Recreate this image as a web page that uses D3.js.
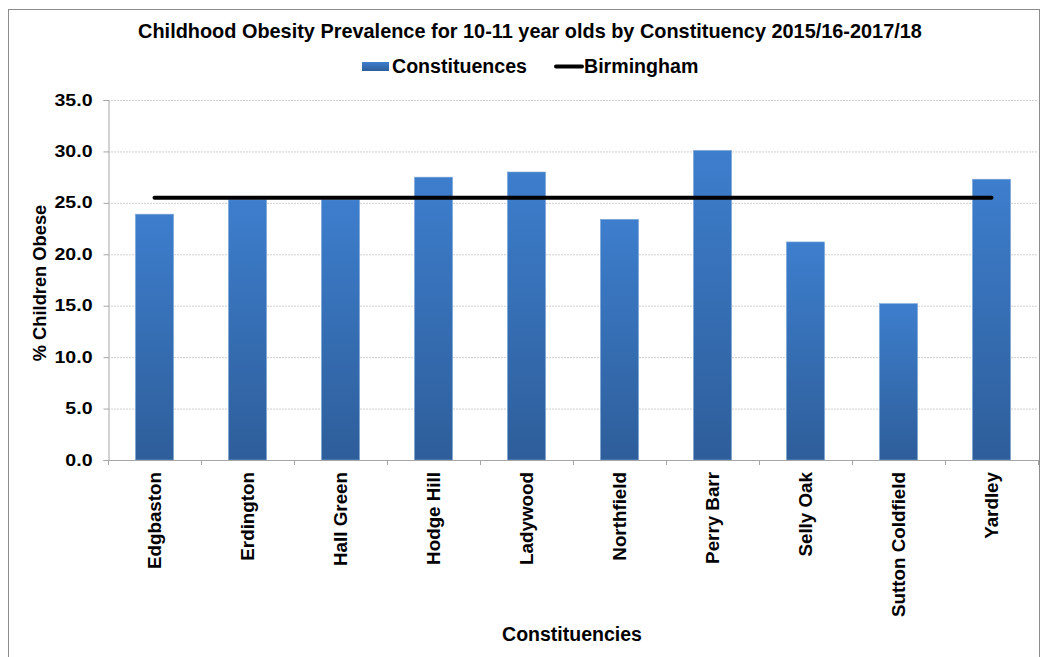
<!DOCTYPE html>
<html><head><meta charset="utf-8">
<script src="https://cdn.jsdelivr.net/npm/d3@7"></script>
<style>
body{margin:0;background:#fff;}
text{font-family:Arial,"Liberation Sans",sans-serif;font-weight:bold;fill:#000;}
</style></head>
<body><svg id="c" width="1043" height="657"></svg>
<script>
const categories = ["Edgbaston","Erdington","Hall Green","Hodge Hill","Ladywood","Northfield","Perry Barr","Selly Oak","Sutton Coldfield","Yardley"];
const constituencyValues = [23.9, 25.3, 25.3, 27.5, 28.0, 23.4, 30.1, 21.2, 15.2, 27.3];
const birminghamValue = 25.5;
const yTicks = [0,5,10,15,20,25,30,35];
const titleText = "Childhood Obesity Prevalence for 10-11 year olds by Constituency 2015/16-2017/18";
const seriesNames = ["Constituences","Birmingham"];
const xTitle = "Constituencies";
const yTitle = "% Children Obese";

const svg = d3.select("#c");
function widen(sel, k){ sel.each(function(){ const w=this.getComputedTextLength(); d3.select(this).attr("textLength", w*k).attr("lengthAdjust","spacingAndGlyphs"); }); }

// outer border
svg.append("rect").attr("x",8.5).attr("y",9.5).attr("width",1031).attr("height",700)
  .attr("fill","none").attr("stroke","#8c8c8c").attr("stroke-width",1);

const pLeft=108, pRight=1038, pTop=100, pBottom=460;
const x = d3.scaleBand().domain(categories).range([pLeft,pRight]).paddingInner(0.59).paddingOuter(0.295);
const y = d3.scaleLinear().domain([0,35]).range([pBottom,pTop]);

const defs = svg.append("defs");
const g = defs.append("linearGradient").attr("id","bg").attr("x1",0).attr("y1",0).attr("x2",0).attr("y2",1);
g.append("stop").attr("offset","0%").attr("stop-color","#3d7ecd");
g.append("stop").attr("offset","100%").attr("stop-color","#2e5e9a");

// gridlines
svg.append("g").selectAll("line").data(yTicks.filter(d=>d>0)).join("line")
  .attr("x1",pLeft).attr("x2",pRight).attr("y1",d=>y(d)+0.5).attr("y2",d=>y(d)+0.5)
  .attr("stroke","#cfcfcf").attr("stroke-width",1).attr("stroke-dasharray","2,1");

// y axis
const ya = svg.append("g").attr("transform",`translate(${pLeft+0.5},0)`)
  .call(d3.axisLeft(y).tickValues(yTicks).tickFormat(d3.format(".1f")).tickSize(5).tickPadding(11));
ya.select(".domain").attr("stroke","#a6a6a6");
ya.selectAll(".tick line").attr("stroke","#a6a6a6");
ya.selectAll(".tick text").attr("font-size",16).style("font-family","Arial, 'Liberation Sans', sans-serif").style("font-weight","bold").attr("fill","#000").call(widen,1.22);

// bars
svg.append("g").selectAll("rect").data(categories).join("rect")
  .attr("x",d=>x(d)).attr("width",x.bandwidth())
  .attr("y",(d,i)=>y(constituencyValues[i])).attr("height",(d,i)=>pBottom-y(constituencyValues[i]))
  .attr("fill","url(#bg)").attr("stroke","#7fa7d8").attr("stroke-width",0.6);

// x axis
const step = x.step();
const xa = svg.append("g");
xa.append("line").attr("x1",pLeft).attr("x2",pRight).attr("y1",pBottom+0.5).attr("y2",pBottom+0.5).attr("stroke","#a6a6a6");
const bounds = categories.map(c=>x(c)-step*0.295).concat([pRight]);
xa.selectAll("line.t").data(bounds).join("line").attr("class","t")
  .attr("x1",d=>Math.round(d)+0.5).attr("x2",d=>Math.round(d)+0.5).attr("y1",pBottom).attr("y2",pBottom+5).attr("stroke","#a6a6a6");
xa.selectAll("text").data(categories).join("text")
  .attr("transform",d=>`translate(${x(d)+x.bandwidth()/2},${pBottom+12}) rotate(-90)`)
  .attr("text-anchor","end").attr("dy","0.36em").attr("font-size",18.8).text(d=>d);

// Birmingham line
const lineGen = d3.line().x(d=>x(d)+x.bandwidth()/2).y(()=>y(birminghamValue));
svg.append("path").datum(categories).attr("d",lineGen).attr("fill","none")
  .attr("stroke","#000").attr("stroke-width",4).attr("stroke-linecap","round");

// title
svg.append("text").attr("x",530).attr("y",38).attr("text-anchor","middle").attr("font-size",19.9).text(titleText);

// legend
const lg = svg.append("g");
lg.append("rect").attr("x",362).attr("y",62).attr("width",27).attr("height",9).attr("fill","url(#bg)");
lg.append("text").attr("x",392).attr("y",73).attr("font-size",19.6).text(seriesNames[0]);
lg.append("line").attr("x1",556).attr("x2",582).attr("y1",66.5).attr("y2",66.5).attr("stroke","#000").attr("stroke-width",4).attr("stroke-linecap","round");
lg.append("text").attr("x",584).attr("y",73).attr("font-size",19.6).text(seriesNames[1]);

// axis titles
svg.append("text").attr("x",572).attr("y",641).attr("text-anchor","middle").attr("font-size",19.5).text(xTitle);
svg.append("text").attr("transform","translate(46,283) rotate(-90)").attr("text-anchor","middle").attr("font-size",18.3).text(yTitle);
</script></body></html>
